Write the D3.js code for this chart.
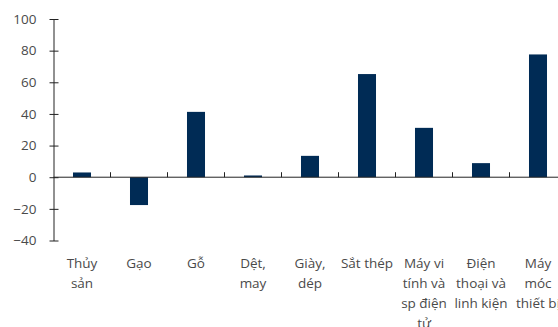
<!DOCTYPE html>
<html>
<head>
<meta charset="utf-8">
<script src="https://cdn.jsdelivr.net/npm/d3@7/dist/d3.min.js"></script>
<style>
  html, body { margin: 0; padding: 0; background: #fff; }
  svg { display: block; }
  text { font-family: "Open Sans", "Noto Sans", sans-serif; }
</style>
</head>
<body>
<svg id="chart" width="558" height="327"></svg>
<script>
// Export growth by product group (%)
const categories = [
  "Thủy\nsản",
  "Gạo",
  "Gỗ",
  "Dệt,\nmay",
  "Giày,\ndép",
  "Sắt thép",
  "Máy vi\ntính và\nsp điện\ntử",
  "Điện\nthoại và\nlinh kiện",
  "Máy\nmóc\nthiết bị"
];
const values = [3.0, -17.6, 41.3, 1.1, 13.5, 65.2, 31.2, 8.9, 77.6];
const yTicks = [-40, -20, 0, 20, 40, 60, 80, 100];

const svg = d3.select("#chart");
const left = 53.5;
const step = 57;

const x = d3.scaleBand()
  .domain(categories)
  .range([left, left + step * categories.length])
  .paddingInner(0.684)
  .paddingOuter(0.342);

const y = d3.scaleLinear()
  .domain([-40, 100])
  .range([240.5, 19]);

const textColor = "#4a4a4a";
const axisColor = "#222";

// Bars
svg.append("g")
  .selectAll("rect")
  .data(values)
  .join("rect")
  .attr("x", (d, i) => x(categories[i]))
  .attr("width", x.bandwidth())
  .attr("y", d => y(Math.max(0, d)))
  .attr("height", d => Math.abs(y(d) - y(0)))
  .attr("fill", "#002b55");

// Y axis
const yAxis = svg.append("g")
  .attr("transform", `translate(${left},0)`)
  .call(d3.axisLeft(y).tickValues(yTicks).tickSize(4).tickSizeOuter(0).tickPadding(13));
yAxis.select(".domain").attr("stroke", axisColor);
yAxis.selectAll(".tick line").attr("stroke", axisColor).attr("x2", 5).attr("x1", -4);
yAxis.selectAll(".tick text")
  .attr("fill", textColor)
  .style("font-size", "13.5px");

// X axis along zero line with inner ticks between categories
const xg = svg.append("g").attr("transform", `translate(0,${y(0)})`);
xg.append("line")
  .attr("x1", left).attr("x2", 558)
  .attr("stroke", axisColor);
const bounds = d3.range(1, categories.length).map(i => left + step * i);
xg.selectAll("line.sep")
  .data(bounds)
  .join("line")
  .attr("class", "sep")
  .attr("x1", d => d).attr("x2", d => d)
  .attr("y1", -5).attr("y2", 0)
  .attr("stroke", axisColor);

// Category labels
const labels = svg.append("g")
  .selectAll("text")
  .data(categories)
  .join("text")
  .attr("text-anchor", "middle")
  .attr("fill", textColor)
  .style("font-size", "13.5px")
  .attr("transform", d => `translate(${x(d) + x.bandwidth() / 2},268)`);
labels.each(function(d) {
  const t = d3.select(this);
  d.split("\n").forEach((line, i) => {
    t.append("tspan").attr("x", 0).attr("y", i * 20).text(line);
  });
});
</script>
</body>
</html>
